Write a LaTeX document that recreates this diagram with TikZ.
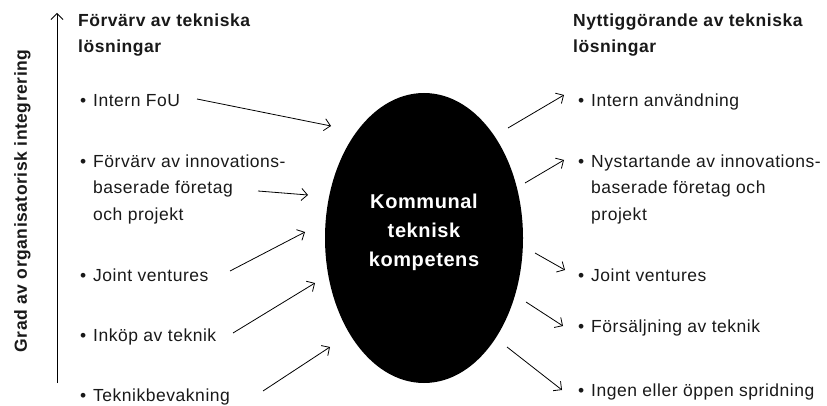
\documentclass[tikz,border=0pt]{standalone}
\usepackage{fontspec}
\setmainfont{Liberation Sans}[LetterSpace=3]
\usetikzlibrary{arrows.meta,shapes.geometric}
\newcommand\bulit{\makebox[13pt][l]{•}}
\newcommand\indt{\hspace*{13pt}}
\begin{document}
\begin{tikzpicture}[x=1pt,y=-1pt,
 txt/.style={anchor=base west, inner sep=0pt, align=left, font=\fontsize{17.5}{26}\selectfont, text=black!90},
 head/.style={txt, font=\fontsize{17.5}{26}\selectfont\bfseries},
 arr/.style={-{Straight Barb[length=6pt,width=12pt]}, line width=0.8pt},
 core/.style={ellipse, fill=black, inner sep=0pt, minimum width=198pt, minimum height=290pt},
]
\useasboundingbox (0,0) rectangle (827,406);
% axis
\coordinate (ax0) at (57,383);
\coordinate (ax1) at (57,13);
\draw[arr] (ax0) -- (ax1);
\node[rotate=90, anchor=base, inner sep=0pt, font=\fontsize{17.5}{20}\selectfont\bfseries, text=black!90] (axlabel) at (27,201) {Grad av organisatorisk integrering};
% left (multi-line nodes are placed at the baseline of their last line)
\node[head] (lhead) at (78,53) {Förvärv av tekniska\\lösningar};
\node[txt] (l1) at (80,107) {\bulit Intern FoU};
\node[txt] (l2) at (80,220) {\bulit Förvärv av innovations-\\\indt baserade företag\\\indt och projekt};
\node[txt] (l3) at (80,281) {\bulit Joint ventures};
\node[txt] (l4) at (80,341) {\bulit Inköp av teknik};
\node[txt] (l5) at (80,401) {\bulit Teknikbevakning};
% right
\node[head] (rhead) at (573,53) {Nyttiggörande av tekniska\\lösningar};
\node[txt] (r1) at (578,107) {\bulit Intern användning};
\node[txt] (r2) at (578,220) {\bulit Nystartande av innovations-\\\indt baserade företag och\\\indt projekt};
\node[txt] (r3) at (578,281) {\bulit Joint ventures};
\node[txt] (r4) at (578,332) {\bulit Försäljning av teknik};
\node[txt] (r5) at (578,396) {\bulit Ingen eller öppen spridning};
% core
\node[core] (kk) at (424,238) {};
\node[align=center, inner sep=0pt, text=white, font=\fontsize{20}{29}\selectfont\bfseries] (kktext) at (424,232) {Kommunal\\teknisk\\kompetens};
% left arrows
\coordinate (a1s) at (197,99);  \coordinate (a1e) at (331,126);
\coordinate (a2s) at (258,191); \coordinate (a2e) at (308,195);
\coordinate (a3s) at (230,271); \coordinate (a3e) at (305,232);
\coordinate (a4s) at (233,333); \coordinate (a4e) at (315,283);
\coordinate (a5s) at (263,391); \coordinate (a5e) at (330,347);
\foreach \i in {1,...,5} {\draw[arr] (a\i s) -- (a\i e);}
% right arrows
\coordinate (b1s) at (508,128); \coordinate (b1e) at (564,95);
\coordinate (b2s) at (525,183); \coordinate (b2e) at (564,160);
\coordinate (b3s) at (535,253); \coordinate (b3e) at (565,270);
\coordinate (b4s) at (526,302); \coordinate (b4e) at (563,326);
\coordinate (b5s) at (507,347); \coordinate (b5e) at (562,390);
\foreach \i in {1,...,5} {\draw[arr] (b\i s) -- (b\i e);}
\end{tikzpicture}
\end{document}
